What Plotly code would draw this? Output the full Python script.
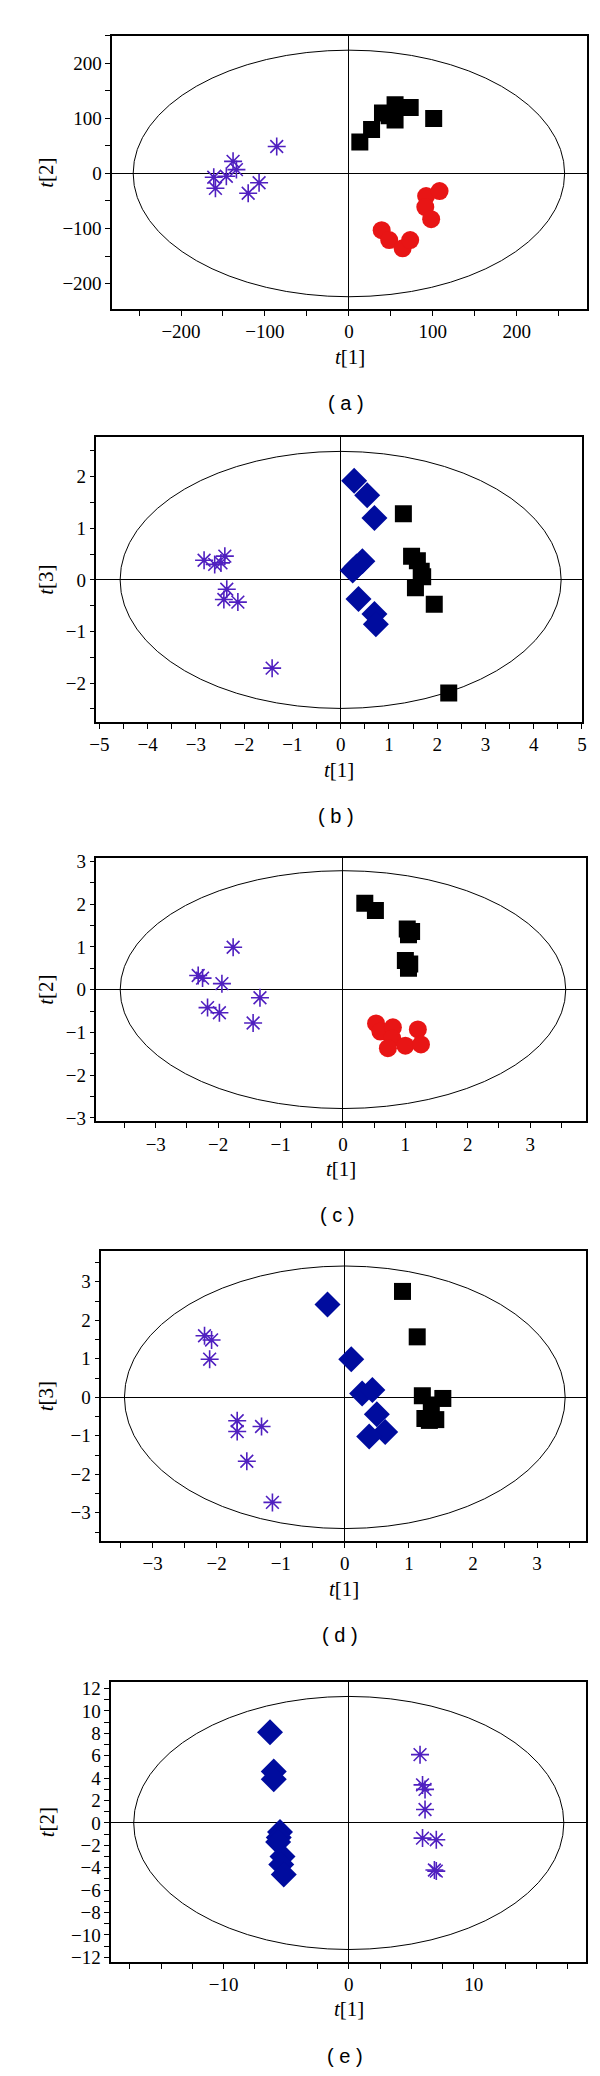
import plotly.graph_objects as go

# ---------------- data ----------------
# panel (a): t[1] vs t[2]
a_sq_x = [13, 27, 40, 48, 55, 55, 73, 101]
a_sq_y = [57, 80, 110, 105, 125, 97, 120, 100]
a_ci_x = [39, 48, 64, 73, 92, 91, 98, 108]
a_ci_y = [-103, -121, -136, -121, -41, -61, -83, -32]
a_as_x = [-86, -138, -134, -146, -161, -159, -120, -107]
a_as_y = [49, 22, 7, -5, -7, -27, -36, -17]

# panel (b): t[1] vs t[3]
b_di_x = [0.28, 0.55, 0.70, 0.45, 0.25, 0.33, 0.37, 0.70, 0.73]
b_di_y = [1.92, 1.64, 1.20, 0.36, 0.18, 0.26, -0.37, -0.66, -0.86]
b_sq_x = [1.30, 1.47, 1.59, 1.67, 1.70, 1.55, 1.94, 2.24]
b_sq_y = [1.28, 0.46, 0.37, 0.17, 0.06, -0.15, -0.47, -2.19]
b_as_x = [-2.83, -2.61, -2.40, -2.48, -2.36, -2.42, -2.13, -1.42]
b_as_y = [0.38, 0.30, 0.46, 0.33, -0.18, -0.38, -0.43, -1.71]

# panel (c): t[1] vs t[2]
c_sq_x = [0.35, 0.52, 1.03, 1.10, 1.05, 1.00, 1.07, 1.05]
c_sq_y = [2.02, 1.85, 1.42, 1.36, 1.28, 0.68, 0.60, 0.50]
c_ci_x = [0.53, 0.60, 0.80, 0.79, 0.72, 1.00, 1.20, 1.25]
c_ci_y = [-0.79, -0.98, -0.88, -1.14, -1.37, -1.31, -0.93, -1.28]
c_as_x = [-1.76, -2.32, -2.25, -1.94, -1.33, -2.17, -1.98, -1.44]
c_as_y = [0.99, 0.33, 0.27, 0.14, -0.19, -0.42, -0.54, -0.78]

# panel (d): t[1] vs t[3]
d_di_x = [-0.27, 0.10, 0.27, 0.43, 0.50, 0.63, 0.38]
d_di_y = [2.41, 0.99, 0.10, 0.19, -0.44, -0.90, -1.02]
d_sq_x = [0.90, 1.13, 1.21, 1.53, 1.35, 1.25, 1.42, 1.32]
d_sq_y = [2.75, 1.57, 0.04, -0.03, -0.20, -0.55, -0.58, -0.60]
d_as_x = [-2.19, -2.08, -2.11, -1.68, -1.68, -1.30, -1.53, -1.13]
d_as_y = [1.60, 1.49, 0.99, -0.61, -0.89, -0.76, -1.66, -2.73]

# panel (e): t[1] vs t[2]
e_di_x = [-6.3, -6.0, -6.0, -5.5, -5.6, -5.65, -5.3, -5.4, -5.2]
e_di_y = [8.1, 4.6, 3.9, -0.8, -1.3, -1.7, -3.0, -3.7, -4.6]
e_as_x = [5.7, 5.9, 6.1, 6.1, 5.9, 7.0, 6.85, 7.0]
e_as_y = [6.1, 3.4, 3.0, 1.2, -1.35, -1.5, -4.2, -4.3]

# Hotelling ellipse semi-axes (data units) per panel
ell_rx = [257, 4.57, 3.57, 3.44, 17.2]
ell_ry = [224, 2.49, 2.78, 3.41, 11.3]

# axis ranges & ticks
x_ranges = [[-282, 284], [-5.06, 5.01], [-3.95, 3.9], [-3.8, 3.77], [-19, 19]]
y_ranges = [[-246, 250], [-2.75, 2.77], [-3.07, 3.08], [-3.73, 3.8], [-12.4, 12.6]]
x_dtick = [100, 1, 1, 1, 10]
x_minor = [50, 0.5, 0.5, 0.5, 2.5]
y_dtick = [100, 1, 1, 1, 2]
y_minor = [50, 0.5, 0.5, 0.5, 1]
y_titles = ["<i>t</i>[2]", "<i>t</i>[3]", "<i>t</i>[2]", "<i>t</i>[3]", "<i>t</i>[2]"]
panel_labels = ["( a )", "( b )", "( c )", "( d )", "( e )"]

# ---------------- layout geometry (pixels) ----------------
W, H = 600, 2076
boxes = [  # left, right, top, bottom
    (99, 583, 21, 296),
    (83, 578, 425, 712),
    (83, 582, 849, 1114),
    (88, 582, 1245, 1537),
    (98, 582, 1679, 1961),
]

SERIF = "Liberation Serif, Times New Roman, serif"
SQ = dict(symbol="square", size=17, color="black")
CI = dict(symbol="circle", size=18, color="#e81515")
DI = dict(symbol="diamond", size=20, color="#000c9e")
AS = dict(symbol="asterisk-open", size=15, color="#5020c0", line=dict(width=1.6, color="#5020c0"))

panels = [
    [(a_as_x, a_as_y, AS), (a_sq_x, a_sq_y, SQ), (a_ci_x, a_ci_y, CI)],
    [(b_as_x, b_as_y, AS), (b_sq_x, b_sq_y, SQ), (b_di_x, b_di_y, DI)],
    [(c_as_x, c_as_y, AS), (c_sq_x, c_sq_y, SQ), (c_ci_x, c_ci_y, CI)],
    [(d_as_x, d_as_y, AS), (d_sq_x, d_sq_y, SQ), (d_di_x, d_di_y, DI)],
    [(e_di_x, e_di_y, DI), (e_as_x, e_as_y, AS)],
]

fig = go.Figure()
layout = dict(
    width=W, height=H, margin=dict(l=0, r=0, t=0, b=0),
    paper_bgcolor="white", plot_bgcolor="white", showlegend=False,
    font=dict(family=SERIF, size=19, color="black"),
)
shapes = []
annotations = []
serif = dict(family=SERIF, size=21, color="black")

for i, (l, r, t, b) in enumerate(boxes):
    n = "" if i == 0 else str(i + 1)
    xa, ya = "x" + n, "y" + n
    for xs, ys, mk in panels[i]:
        fig.add_trace(go.Scatter(x=xs, y=ys, mode="markers", marker=mk,
                                 xaxis=xa, yaxis=ya, hoverinfo="skip"))
    common = dict(showline=True, mirror=True, linecolor="black", linewidth=1.5,
                  showgrid=False, zeroline=True, zerolinecolor="black",
                  zerolinewidth=1, ticks="outside", ticklen=5, tickcolor="black",
                  tickfont=dict(family=SERIF, size=19, color="black"))
    layout["xaxis" + n] = dict(
        common, domain=[l / W, r / W], range=x_ranges[i], dtick=x_dtick[i], tick0=0,
        anchor=ya, minor=dict(dtick=x_minor[i], tick0=0, ticks="outside", ticklen=5, tickcolor="black"))
    layout["yaxis" + n] = dict(
        common, domain=[1 - b / H, 1 - t / H], range=y_ranges[i], dtick=y_dtick[i], tick0=0,
        anchor=xa, minor=dict(dtick=y_minor[i], tick0=0, ticks="outside", ticklen=5, tickcolor="black"))
    shapes.append(dict(type="circle", xref=xa, yref=ya, x0=-ell_rx[i], x1=ell_rx[i],
                       y0=-ell_ry[i], y1=ell_ry[i], line=dict(color="black", width=1),
                       layer="below"))
    cx = (l + r) / 2 / W
    annotations.append(dict(text="<i>t</i>[1]", x=cx, y=1 - (b + 48) / H, xref="paper",
                            yref="paper", showarrow=False, font=serif,
                            xanchor="center", yanchor="middle"))
    annotations.append(dict(text=y_titles[i], x=32 / W, y=1 - (t + b) / 2 / H, xref="paper",
                            yref="paper", showarrow=False, font=serif, textangle=-90,
                            xanchor="center", yanchor="middle"))
    annotations.append(dict(text=panel_labels[i], x=cx - 4 / W, y=1 - (b + 95) / H,
                            xref="paper", yref="paper", showarrow=False,
                            font=dict(family="Liberation Sans, Arial, sans-serif", size=20, color="black"),
                            xanchor="center", yanchor="middle"))

layout["shapes"] = shapes
layout["annotations"] = annotations
fig.update_layout(**layout)
fig.write_html("out.html")
